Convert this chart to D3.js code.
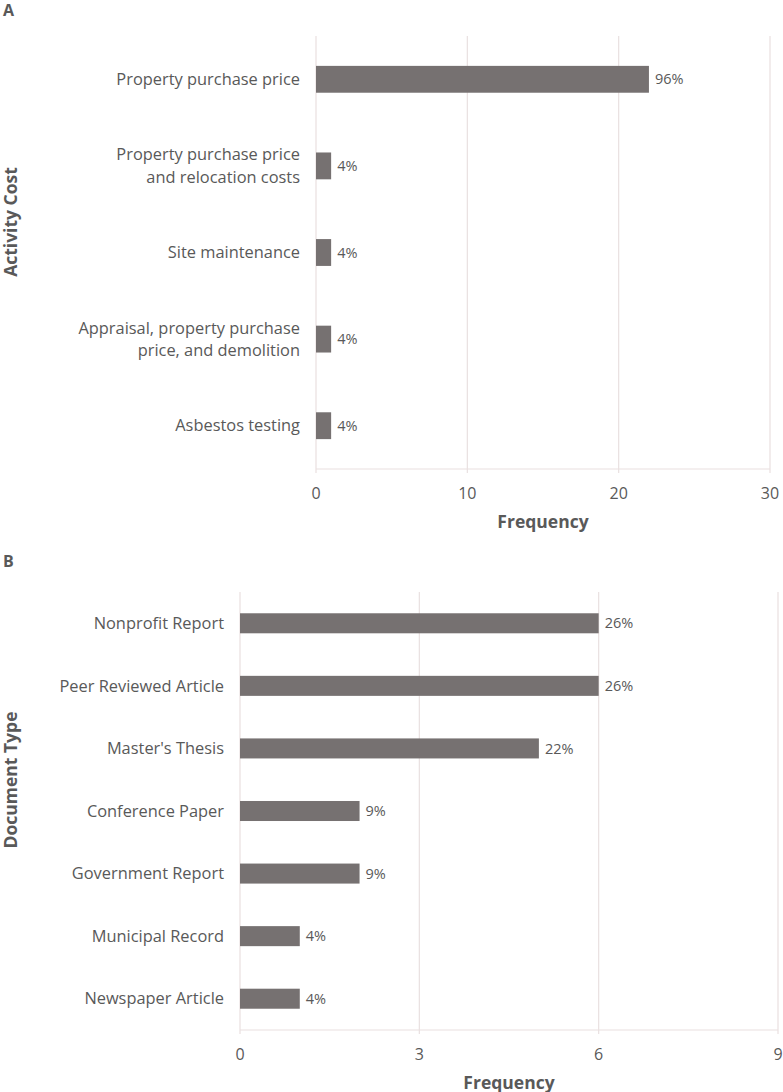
<!DOCTYPE html>
<html>
<head>
<meta charset="utf-8">
<script src="https://cdn.jsdelivr.net/npm/d3@7"></script>
<style>
  html, body { margin: 0; padding: 0; background: #fff; }
  svg { display: block; font-family: "Open Sans", Lato, sans-serif; }
</style>
</head>
<body>
<svg id="chart" width="783" height="1092"></svg>
<script>
/* Panel A: activity cost */
const costCategories = [
  ["Property purchase price"],
  ["Property purchase price", "and relocation costs"],
  ["Site maintenance"],
  ["Appraisal, property purchase", "price, and demolition"],
  ["Asbestos testing"]
];
const costFreq = [22, 1, 1, 1, 1];
const costPct = ["96%", "4%", "4%", "4%", "4%"];
const costTicks = [0, 10, 20, 30];

/* Panel B: document type */
const docCategories = [
  ["Nonprofit Report"],
  ["Peer Reviewed Article"],
  ["Master's Thesis"],
  ["Conference Paper"],
  ["Government Report"],
  ["Municipal Record"],
  ["Newspaper Article"]
];
const docFreq = [6, 6, 5, 2, 2, 1, 1];
const docPct = ["26%", "26%", "22%", "9%", "9%", "4%", "4%"];
const docTicks = [0, 3, 6, 9];

const BAR = "#767171", GRID = "#e9e0e0", TXT = "#595959";
const svg = d3.select("#chart");

function panel(o) {
  const g = svg.append("g");
  const x = d3.scaleLinear().domain([0, o.ticks[o.ticks.length - 1]]).range([o.x0, o.x1]);
  const y = d3.scaleBand().domain(o.cats.map((d, i) => i)).range([o.y0, o.y1]).paddingInner(o.pad).paddingOuter(o.pad / 2);

  // gridlines + small tick marks under the axis
  g.selectAll(".grid").data(o.ticks).join("line")
    .attr("x1", d => x(d)).attr("x2", d => x(d))
    .attr("y1", o.y0).attr("y2", o.y1 + 4)
    .attr("stroke", GRID).attr("stroke-width", 1.2);
  g.append("line").attr("x1", o.x0).attr("x2", o.x1).attr("y1", o.y1).attr("y2", o.y1)
    .attr("stroke", GRID).attr("stroke-width", 1.2);

  // bars
  g.selectAll(".bar").data(o.vals).join("rect")
    .attr("x", x(0)).attr("y", (d, i) => y(i))
    .attr("width", d => x(d) - x(0)).attr("height", y.bandwidth())
    .attr("fill", BAR);

  // value labels
  g.selectAll(".val").data(o.vals).join("text")
    .attr("x", d => x(d) + 6).attr("y", (d, i) => y(i) + y.bandwidth() / 2)
    .attr("dy", "0.35em").attr("font-size", 14.5).attr("fill", TXT)
    .text((d, i) => o.pct[i]);

  // category labels
  o.cats.forEach((lines, i) => {
    const cy = y(i) + y.bandwidth() / 2;
    const t = g.append("text").attr("text-anchor", "end").attr("font-size", 16.4).attr("fill", TXT);
    lines.forEach((l, k) => {
      t.append("tspan").attr("x", o.x0 - 16)
        .attr("y", cy + (k - (lines.length - 1) / 2) * 22.5).attr("dy", "0.35em").text(l);
    });
  });

  // tick labels
  g.selectAll(".tl").data(o.ticks).join("text")
    .attr("x", d => x(d)).attr("y", o.y1 + 24).attr("dy", "0.35em")
    .attr("text-anchor", "middle").attr("font-size", 16).attr("fill", TXT)
    .text(d => d);

  // axis titles
  g.append("text").attr("x", (o.x0 + o.x1) / 2).attr("y", o.y1 + 53).attr("dy", "0.35em")
    .attr("text-anchor", "middle").attr("font-size", 17.5).attr("font-weight", 700).attr("fill", TXT)
    .text("Frequency");
  g.append("text").attr("transform", `translate(11,${o.ytc}) rotate(-90)`).attr("dy", "0.35em")
    .attr("text-anchor", "middle").attr("font-size", 17.5).attr("font-weight", 700).attr("fill", TXT)
    .text(o.ytitle);
  g.append("text").attr("x", 3).attr("y", o.letterY).attr("dy", "0.35em")
    .attr("font-size", 16).attr("font-weight", 700).attr("fill", TXT).text(o.letter);
}

panel({ cats: costCategories, vals: costFreq, pct: costPct, ticks: costTicks,
  x0: 316, x1: 770, y0: 36, y1: 469, pad: 0.69, ytitle: "Activity Cost", ytc: 222, letter: "A", letterY: 10 });
panel({ cats: docCategories, vals: docFreq, pct: docPct, ticks: docTicks,
  x0: 240, x1: 778, y0: 592, y1: 1030, pad: 0.68, ytitle: "Document Type", ytc: 780, letter: "B", letterY: 561 });
</script>
</body>
</html>
